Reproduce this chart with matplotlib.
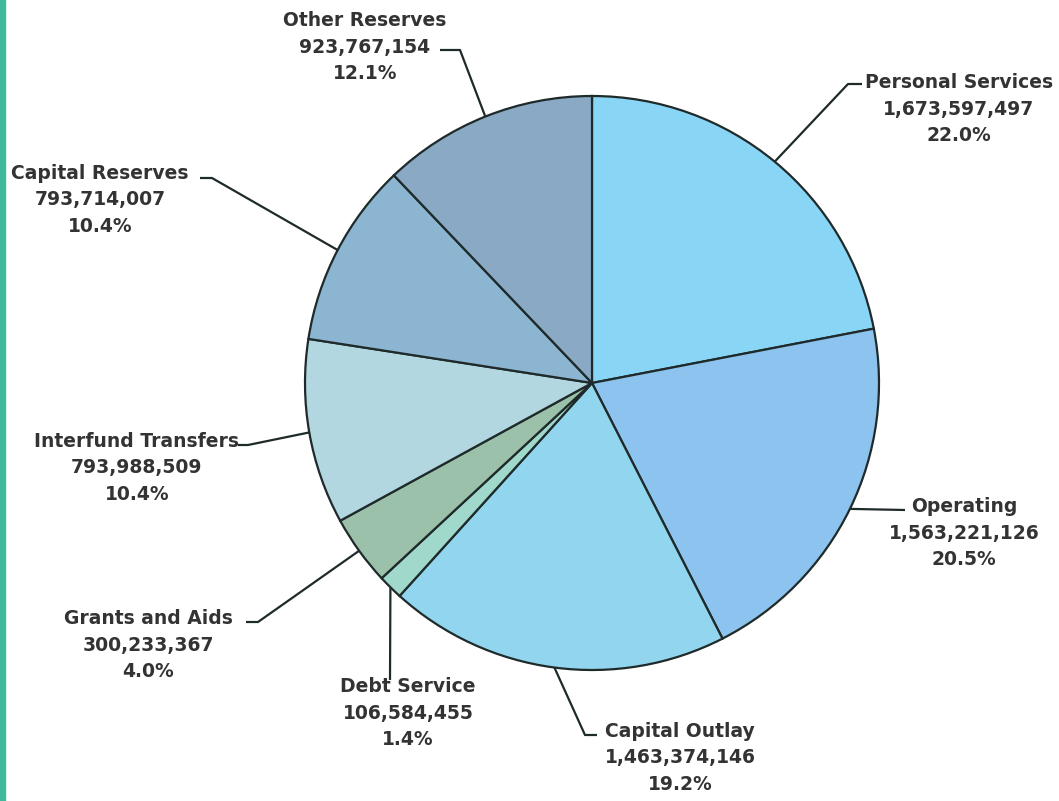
import matplotlib
matplotlib.use("Agg")
import matplotlib.pyplot as plt
from matplotlib.patches import Rectangle
import numpy as np

categories = ["Personal Services", "Operating", "Capital Outlay", "Debt Service",
              "Grants and Aids", "Interfund Transfers", "Capital Reserves", "Other Reserves"]
values = [1673597497, 1563221126, 1463374146, 106584455,
          300233367, 793988509, 793714007, 923767154]
percents = ["22.0%", "20.5%", "19.2%", "1.4%", "4.0%", "10.4%", "10.4%", "12.1%"]
colors = ["#89d5f6", "#8cc4ef", "#91d6ee", "#a0d8cc",
          "#9cc1ab", "#b2d7e0", "#8cb5d1", "#89a9c4"]

W, H = 1059, 801
fig = plt.figure(figsize=(W / 100, H / 100), dpi=100)
ax = fig.add_axes([0, 0, 1, 1])

cx, cy, R = 592, H - 383, 287
wedges, _ = ax.pie(values, colors=colors, startangle=90, counterclock=False,
                   center=(cx, cy), radius=R, frame=True,
                   wedgeprops=dict(edgecolor="#1f2a2a", linewidth=1.6))
ax.set_xlim(0, W)
ax.set_ylim(0, H)
ax.set_aspect("equal")
ax.axis("off")

fig.patches.append(Rectangle((0, 0), 5 / W, 1, transform=fig.transFigure,
                             color="#3fb89b", zorder=10))

# layout: elbow point, end point of leader, text center (pixel coords, y down)
layout = {
    "Personal Services": ((848, 84), (862, 84), (959, 109)),
    "Operating": ((905, 510), (905, 510), (964, 533)),
    "Capital Outlay": ((585, 735), (597, 735), (680, 758)),
    "Debt Service": ((390, 680), (390, 680), (408, 713)),
    "Grants and Aids": ((258, 622), (246, 622), (148, 645)),
    "Interfund Transfers": ((248, 445), (238, 445), (137, 468)),
    "Capital Reserves": ((212, 178), (200, 178), (100, 200)),
    "Other Reserves": ((460, 50), (440, 50), (365, 47)),
}

for w, name, v, p in zip(wedges, categories, values, percents):
    ang = np.deg2rad((w.theta1 + w.theta2) / 2)
    sx, sy = cx + R * np.cos(ang), cy + R * np.sin(ang)
    (ex, ey), (fx, fy), (tx, ty) = layout[name]
    ax.plot([sx, ex, fx], [sy, H - ey, H - fy], color="#1f2a2a", lw=1.6,
            solid_capstyle="butt", zorder=5)
    txt = f"{name}\n{v:,}\n{p}"
    ax.text(tx, H - ty, txt, ha="center", va="center", multialignment="center",
            fontsize=13.5, fontweight="bold", family="DejaVu Sans", color="#333333",
            linespacing=1.5)

fig.savefig("out.png", dpi=100, facecolor="white")
